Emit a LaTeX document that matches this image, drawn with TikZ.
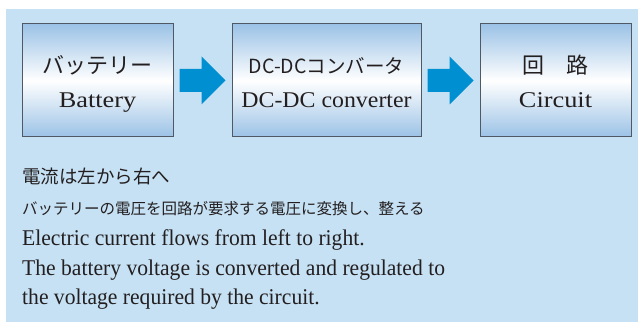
\documentclass[tikz,border=0pt]{standalone}
\usepackage{fontspec}
\setmainfont{Liberation Serif}
\newfontfamily\jpfont{Noto Sans CJK JP}
\newfontfamily\serifwide[FakeStretch=1.17]{Liberation Serif}
\newfontfamily\serifmid[FakeStretch=1.06]{Liberation Serif}
\newfontfamily\serifnarrow[FakeStretch=0.96]{Liberation Serif}
\usetikzlibrary{calc}
\definecolor{panelblue}{RGB}{198,225,244}
\definecolor{boxblue}{RGB}{155,194,230}
\definecolor{arrowblue}{RGB}{0,144,210}
\definecolor{framegray}{RGB}{80,88,100}
\definecolor{inkblack}{RGB}{35,31,32}
\newcommand\fatarrow[1]{
    % shaft and head around the gap centre #1
    \fill[arrowblue] ($(#1)+(-23,-11.5)$) -- ($(#1)+(-1,-11.5)$)
        -- ($(#1)+(-1,-24)$) -- ($(#1)+(23,0)$) -- ($(#1)+(-1,24)$)
        -- ($(#1)+(-1,11.5)$) -- ($(#1)+(-23,11.5)$) -- cycle;
}

\begin{document}
\begin{tikzpicture}[x=1pt, y=-1pt,
        blockbox/.style={draw=framegray, line width=1pt, top color=boxblue,
            bottom color=boxblue, middle color=white, minimum height=113pt,
            inner sep=0pt, outer sep=0pt},
        jptext/.style={text=inkblack},
        entext/.style={text=inkblack},
        lineja/.style={anchor=base west, text=inkblack, inner sep=0pt},
        lineen/.style={anchor=base west, text=inkblack, inner sep=0pt,
            font=\serifnarrow\fontsize{22.5}{27}\selectfont}
    ]
    \useasboundingbox (0,0) rectangle (638,323);
    \fill[panelblue] (6,9) rectangle (638,322);

    % the three blocks
    \node[blockbox, minimum width=151pt] (bat) at (97.5,80.5) {};
    \node[blockbox, minimum width=189pt] (conv) at (326.5,80.5) {};
    \node[blockbox, minimum width=151pt] (circ) at (555.5,80.5) {};

    \foreach \b/\ja/\js/\en/\ef in {bat/バッテリー/22/Battery/\serifwide,
        conv/DC-DCコンバータ/19.5/DC-DC converter/\serifmid,
        circ/回　路/22/Circuit/\serifwide}
    {
        \node[jptext, anchor=base, font=\jpfont\fontsize{\js}{24}\selectfont]
            (\b-ja) at ($(\b.center)+(0,-7)$) {\ja};
        \node[entext, anchor=base, font=\ef\fontsize{22.5}{27}\selectfont]
            (\b-en) at ($(\b.center)+(0,27.5)$) {\en};
    }

    % current direction
    \coordinate (g1) at ($(bat.east)!0.5!(conv.west)$);
    \coordinate (g2) at ($(conv.east)!0.5!(circ.west)$);
    \fatarrow{g1}
    \fatarrow{g2}

    % notes under the blocks
    \node[lineja, font=\jpfont\fontsize{18.5}{22}\selectfont] (note1) at (22,184) {電流は左から右へ};
    \node[lineja, font=\jpfont\fontsize{15.5}{18}\selectfont] (note2) at (22,215) {バッテリーの電圧を回路が要求する電圧に変換し、整える};
    \node[lineen] (note3) at (22,246) {Electric current flows from left to right.};
    \node[lineen] (note4) at (22,275.5) {The battery voltage is converted and regulated to};
    \node[lineen] (note5) at (22,305) {the voltage required by the circuit.};
\end{tikzpicture}
\end{document}
